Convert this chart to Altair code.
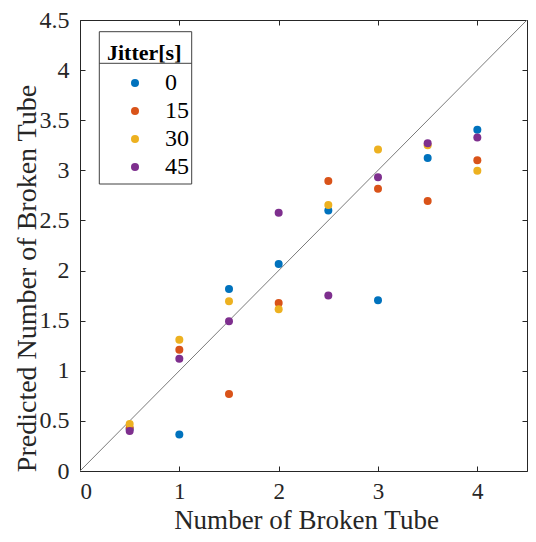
import altair as alt
import pandas as pd

# ---- data ----
x_vals = [0.5, 1, 1.5, 2, 2.5, 3, 3.5, 4]
jitter_levels = ["0", "15", "30", "45"]
pred_0 = [0.42, 0.365, 1.816, 2.065, 2.598, 1.703, 3.124, 3.406]
pred_15 = [0.43, 1.21, 0.768, 1.677, 2.893, 2.816, 2.694, 3.101]
pred_30 = [0.47, 1.309, 1.693, 1.613, 2.654, 3.208, 3.25, 2.995]
pred_45 = [0.40, 1.12, 1.494, 2.578, 1.75, 2.932, 3.27, 3.327]
colors = ["#0072BD", "#D95319", "#EDB120", "#7E2F8E"]
x_ticks = [0, 1, 2, 3, 4]
y_ticks = [0, 0.5, 1, 1.5, 2, 2.5, 3, 3.5, 4, 4.5]
axis_range = [0, 4.5]

rows = []
for lvl, ys in zip(jitter_levels, [pred_0, pred_15, pred_30, pred_45]):
    for xv, yv in zip(x_vals, ys):
        rows.append({"x": xv, "y": yv, "jitter": lvl})
df = pd.DataFrame(rows)
diag = pd.DataFrame({"x": axis_range, "y": axis_range})

FONT = "Liberation Serif, Times New Roman, serif"
TXT = "#262626"
BOX = "#404040"
W, H = 447, 451
TS = 5

xscale = alt.Scale(domain=axis_range, nice=False, zero=False)
yscale = alt.Scale(domain=axis_range, nice=False, zero=False)

common_axis = dict(domain=False, grid=False, ticks=True, tickSize=TS, offset=-TS,
                   tickColor=TXT, tickWidth=1, labelFont=FONT, labelColor=TXT,
                   titleFont=FONT, titleColor=TXT, titleFontWeight="normal")

points = alt.Chart(df).mark_circle(size=64, opacity=1).encode(
    x=alt.X("x:Q", scale=xscale,
            axis=alt.Axis(orient="bottom", values=x_ticks, format="d",
                          title="Number of Broken Tube", labelPadding=9,
                          labelFontSize=23, titleFontSize=27,
                          titleX=226, titleY=62, titleBaseline="alphabetic",
                          titleAlign="center", **common_axis)),
    y=alt.Y("y:Q", scale=yscale,
            axis=alt.Axis(orient="left", values=y_ticks, format=".1~f",
                          title="Predicted Number of Broken Tube", labelPadding=11,
                          labelFontSize=24, titleFontSize=28,
                          titleX=-50, titleY=258, titleBaseline="alphabetic",
                          titleAlign="center", titleAngle=270, **common_axis)),
    color=alt.Color("jitter:N", scale=alt.Scale(domain=jitter_levels, range=colors),
                    legend=alt.Legend(title="Jitter[s]", orient="none",
                                      legendX=18, legendY=14, padding=9,
                                      titleFont=FONT, titleFontSize=22,
                                      titleFontWeight="bold", titleColor="black",
                                      titlePadding=6,
                                      labelFont=FONT, labelFontSize=24,
                                      labelColor="black",
                                      symbolType="circle", symbolSize=64,
                                      symbolStrokeWidth=0, symbolOffset=16,
                                      labelOffset=18, rowPadding=4)),
)

line = alt.Chart(diag).mark_line(color="#7a7a7a", strokeWidth=1).encode(
    x=alt.X("x:Q", scale=xscale,
            axis=alt.Axis(orient="top", values=x_ticks, labels=False, title=None,
                          domain=False, grid=False, tickSize=TS, offset=-TS,
                          tickColor=TXT)),
    y=alt.Y("y:Q", scale=yscale,
            axis=alt.Axis(orient="right", values=y_ticks, labels=False, title=None,
                          domain=False, grid=False, tickSize=TS, offset=-TS,
                          tickColor=TXT)),
)

# legend frame and title separator (decoration, pixel positions)
one = pd.DataFrame({"a": [0]})
frame = alt.Chart(one).mark_rect(fill="white", fillOpacity=0, stroke=BOX, strokeWidth=1).encode(
    x=alt.value(19.3), x2=alt.value(111.7), y=alt.value(11.7), y2=alt.value(164)
)
sep = alt.Chart(one).mark_rule(color=BOX, strokeWidth=1).encode(
    x=alt.value(19.3), x2=alt.value(111.7), y=alt.value(43.3)
)

chart = alt.layer(line, points, frame, sep).resolve_axis(x="independent", y="independent").properties(
    width=W, height=H,
    autosize=alt.AutoSizeParams(type="none"),
    padding={"left": 72, "top": 12, "right": 1, "bottom": 63},
).configure(font=FONT).configure_view(stroke=TXT, strokeWidth=1)

chart.save("out.html", embed_options={"renderer": "svg", "actions": False})
